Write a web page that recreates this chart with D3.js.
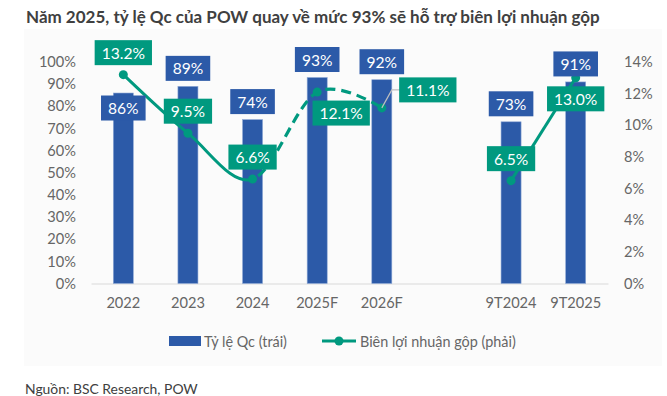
<!DOCTYPE html>
<html><head><meta charset="utf-8">
<script src="https://cdn.jsdelivr.net/npm/d3@7"></script>
<style>
html,body{margin:0;padding:0;background:#fff;}
svg{display:block;font-family:Lato, "Noto Sans", sans-serif;}
</style></head>
<body><svg id="c" width="667" height="396"></svg>
<script>
const categories = ["2022","2023","2024","2025F","2026F","","9T2024","9T2025"];
const qcRatio = [86, 89, 74, 93, 92, null, 73, 91];          // % (left axis)
const grossMargin = [13.2, 9.5, 6.6, 12.1, 11.1, null, 6.5, 13.0]; // % (right axis)
const leftTicks = [0,10,20,30,40,50,60,70,80,90,100];
const rightTicks = [0,2,4,6,8,10,12,14];
const title = "Năm 2025, tỷ lệ Qc của POW quay về mức 93% sẽ hỗ trợ biên lợi nhuận gộp";
const legendLabels = ["Tỷ lệ Qc (trái)", "Biên lợi nhuận gộp (phải)"];
const source = "Nguồn: BSC Research, POW";

const BLUE = "#2C5AA8", GREEN = "#00997F", AXIS = "#666666";
const svg = d3.select("#c");

svg.append("rect").attr("x",24).attr("y",29).attr("width",638).attr("height",337).attr("fill","#fbfbfb");

svg.append("text").attr("x",26).attr("y",22.5).attr("fill","#404040")
  .attr("font-size",17).attr("font-weight",700).text(title);

const idx = categories.map((d,i)=>i);
const x = d3.scaleBand().domain(idx).range([91,608]).paddingInner(0.69).paddingOuter(0.345);
const cx = i => x(i) + x.bandwidth()/2;
const yL = d3.scaleLinear().domain([0,100]).range([283.5,62]);
const yR = d3.scaleLinear().domain([0,14]).range([283.5,62]);

// axes
const gL = svg.append("g").attr("transform","translate(91,0)")
  .call(d3.axisLeft(yL).tickValues(leftTicks).tickFormat(d=>d+"%").tickSize(0).tickPadding(15));
const gR = svg.append("g").attr("transform","translate(608,0)")
  .call(d3.axisRight(yR).tickValues(rightTicks).tickFormat(d=>d+"%").tickSize(0).tickPadding(16));
const gX = svg.append("g").attr("transform","translate(0,283.5)")
  .call(d3.axisBottom(x).tickFormat(i=>categories[i]).tickSize(0).tickPadding(14));
[gL,gR].forEach(g=>g.select(".domain").remove());
gX.select(".domain").attr("stroke","#d9d9d9").attr("stroke-width",1.2);
[gL,gR,gX].forEach(g=>g.selectAll("text").attr("font-size",14.6).attr("fill",AXIS).attr("font-family","Lato"));

// bars
svg.append("g").selectAll("rect").data(idx.filter(i=>qcRatio[i]!=null)).join("rect")
  .attr("x",i=>x(i)).attr("width",x.bandwidth())
  .attr("y",i=>yL(qcRatio[i])).attr("height",i=>yL(0)-yL(qcRatio[i]))
  .attr("fill",BLUE).attr("stroke","#8fa9d6").attr("stroke-width",0.6);

// line
const lineGen = d3.line().x(d=>cx(d)).y(d=>yR(grossMargin[d])).curve(d3.curveCatmullRom.alpha(0));
const first = [0,1,2,3,4];
const defs = svg.append("defs");
defs.append("clipPath").attr("id","solidClip").append("rect").attr("x",0).attr("y",0).attr("width",cx(2)).attr("height",396);
defs.append("clipPath").attr("id","dashClip").append("rect").attr("x",cx(2)).attr("y",0).attr("width",400).attr("height",396);
svg.append("path").attr("d",lineGen(first)).attr("fill","none").attr("stroke",GREEN).attr("stroke-width",3).attr("clip-path","url(#solidClip)");
svg.append("path").attr("d",lineGen(first)).attr("fill","none").attr("stroke",GREEN).attr("stroke-width",3.2)
  .attr("stroke-dasharray","10,6").attr("clip-path","url(#dashClip)");
svg.append("path").attr("d",lineGen([6,7])).attr("fill","none").attr("stroke",GREEN).attr("stroke-width",3);
svg.append("g").selectAll("circle").data(idx.filter(i=>grossMargin[i]!=null)).join("circle")
  .attr("cx",cx).attr("cy",i=>yR(grossMargin[i])).attr("r",4.5).attr("fill",GREEN);

// leader line for 2026F margin label
const m4x = cx(4), m4y = yR(grossMargin[4]);
svg.append("path").attr("d",`M${m4x},${m4y} L${m4x+10},${m4y-18} L${m4x+19},${m4y-18}`)
  .attr("fill","none").attr("stroke","#bfbfbf").attr("stroke-width",1.2);

// label boxes
function box(g, cxp, cyp, txt, fill){
  const gg = g.append("g");
  const t = gg.append("text").attr("x",cxp).attr("y",cyp).attr("text-anchor","middle")
    .attr("dominant-baseline","central").attr("fill","#fff").attr("font-size",15.6).text(txt);
  const w = t.node().getComputedTextLength() + 14;
  gg.insert("rect","text").attr("x",cxp-w/2).attr("y",cyp-12.5).attr("width",w).attr("height",25).attr("fill",fill);
}
const lab = svg.append("g");
// bar labels: offset of box centre from bar top
const barLabelDy = i => i===0 ? 15 : -18;
idx.filter(i=>qcRatio[i]!=null).forEach(i=>box(lab, cx(i), yL(qcRatio[i])+barLabelDy(i), qcRatio[i]+"%", BLUE));
// line labels: offsets from marker
const lineLabelOff = i => i===3 ? [24,21] : i===4 ? [46,-18] : i===7 ? [0,21] : [0,-22];
idx.filter(i=>grossMargin[i]!=null).forEach(i=>{
  const [dx,dy] = lineLabelOff(i);
  box(lab, cx(i)+dx, yR(grossMargin[i])+dy, grossMargin[i].toFixed(1)+"%", GREEN);
});

// legend
const lg = svg.append("g");
lg.append("rect").attr("x",169).attr("y",336).attr("width",32).attr("height",10).attr("fill",BLUE);
lg.append("text").attr("x",204).attr("y",341).attr("dominant-baseline","central").attr("font-size",14.4).attr("fill",AXIS).text(legendLabels[0]);
lg.append("line").attr("x1",322).attr("x2",356).attr("y1",341).attr("y2",341).attr("stroke",GREEN).attr("stroke-width",3);
lg.append("circle").attr("cx",339).attr("cy",341).attr("r",4.5).attr("fill",GREEN);
lg.append("text").attr("x",360).attr("y",341).attr("dominant-baseline","central").attr("font-size",14.4).attr("fill",AXIS).text(legendLabels[1]);

svg.append("text").attr("x",25).attr("y",388).attr("dominant-baseline","central").attr("font-size",13.9).attr("fill","#404040").text(source);
</script></body></html>
